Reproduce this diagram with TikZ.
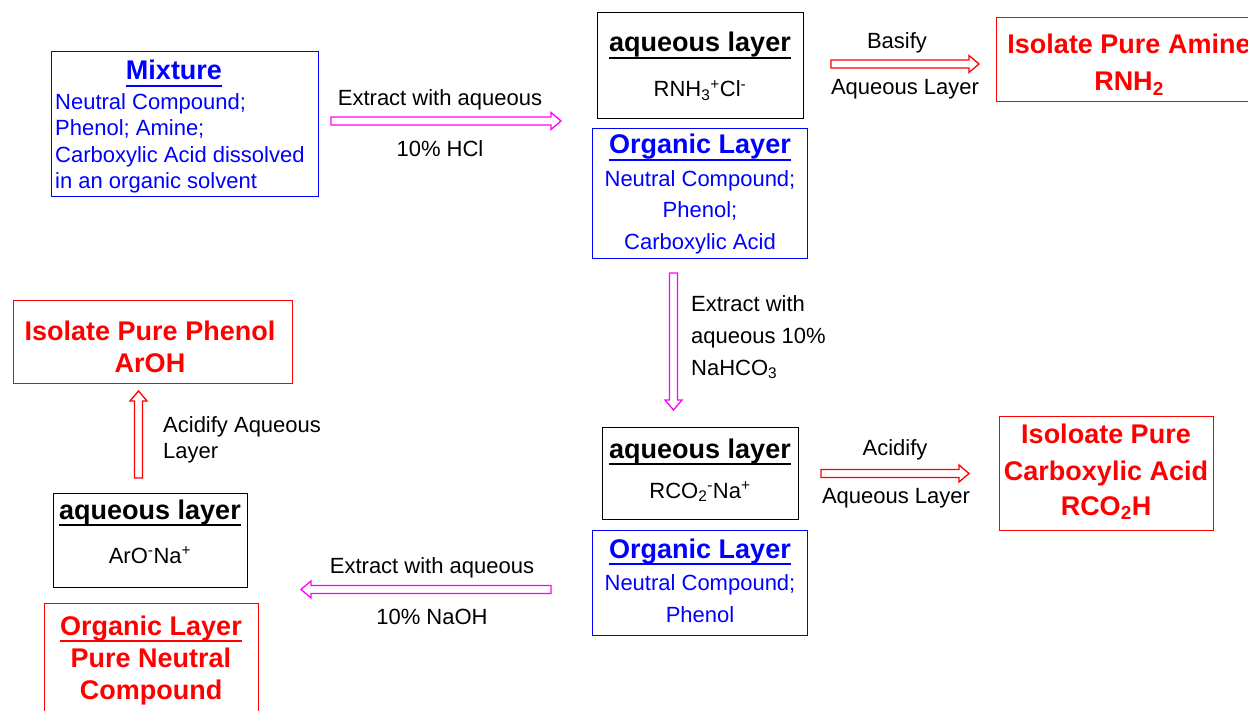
\documentclass[tikz,border=0pt]{standalone}
\usepackage{fontspec}
\setmainfont{Liberation Sans}
\usetikzlibrary{calc}
\definecolor{myblue}{RGB}{0,0,255}
\definecolor{mypink}{RGB}{255,0,255}
\definecolor{myred}{RGB}{255,0,0}
\newcommand\myul[1]{\setbox0\hbox{#1}\rlap{\rule[-0.25em]{\wd0}{0.075em}}\box0}
\begin{document}
\begin{tikzpicture}[x=1pt,y=-1pt,
 body/.style={inner sep=0pt, font=\fontsize{22}{26}\selectfont, anchor=base},
 head/.style={inner sep=0pt, font=\fontsize{27}{31}\selectfont\bfseries, anchor=base},
 frame/.style={draw, line width=1pt, inner sep=0pt},
 blockarrow/.style={line width=1.3pt, fill=white, line join=miter, to path={
  ($(\tikztostart)!4pt!90:(\tikztotarget)$) --
  ($(\tikztotarget)!10pt!(\tikztostart)!4pt!90:(\tikztotarget)$) --
  ($(\tikztotarget)!10pt!(\tikztostart)!8.5pt!90:(\tikztotarget)$) --
  (\tikztotarget) --
  ($(\tikztotarget)!10pt!(\tikztostart)!8.5pt!-90:(\tikztotarget)$) --
  ($(\tikztotarget)!10pt!(\tikztostart)!4pt!-90:(\tikztotarget)$) --
  ($(\tikztostart)!4pt!-90:(\tikztotarget)$) -- cycle}}
]
\useasboundingbox (0,0) rectangle (1248,711);

% boxes
\node[frame, draw=myblue, minimum width=267pt, minimum height=145pt] (mixbox) at (184.5,124.5) {};
\node[frame, draw=black, minimum width=206pt, minimum height=106pt] (aq1) at (700,66) {};
\node[frame, draw=myblue, minimum width=215pt, minimum height=130pt] (org1) at (699.5,194) {};
\node[frame, draw=myred, minimum width=266pt, minimum height=84pt] (amine) at (1129,60) {};
\node[frame, draw=black, minimum width=196pt, minimum height=92pt] (aq2) at (700,473) {};
\node[frame, draw=myblue, minimum width=215pt, minimum height=105pt] (org2) at (699.5,582.5) {};
\node[frame, draw=myred, minimum width=214pt, minimum height=114pt] (acid) at (1106,473) {};
\node[frame, draw=black, minimum width=194pt, minimum height=94pt] (aq3) at (150,540) {};
\node[frame, draw=myred, minimum width=214pt, minimum height=117pt] (neutral) at (151,661.5) {};
\node[frame, draw=myred, minimum width=279pt, minimum height=82pt] (phenol) at (152.5,342) {};

% arrows
\coordinate (a1s) at (331,121);   \coordinate (a1e) at (561,121);
\coordinate (a2s) at (831,64);    \coordinate (a2e) at (979,64);
\coordinate (a3s) at (673.5,273); \coordinate (a3e) at (673.5,410);
\coordinate (a4s) at (821,473.5); \coordinate (a4e) at (969,473.5);
\coordinate (a5s) at (551,589.5); \coordinate (a5e) at (301,589.5);
\coordinate (a6s) at (138.5,478); \coordinate (a6e) at (138.5,391);
\draw[blockarrow, draw=mypink] (a1s) to (a1e);
\draw[blockarrow, draw=myred] (a2s) to (a2e);
\draw[blockarrow, draw=mypink] (a3s) to (a3e);
\draw[blockarrow, draw=myred] (a4s) to (a4e);
\draw[blockarrow, draw=mypink] (a5s) to (a5e);
\draw[blockarrow, draw=myred] (a6s) to (a6e);

% Mixture
\node[head, text=myblue] (mixt) at (174,80) {\myul{Mixture}};
\node[body, text=myblue, anchor=base west] (mix1) at (55,110) {Neutral Compound;};
\node[body, text=myblue, anchor=base west] (mix2) at (55,136) {Phenol; Amine;};
\node[body, text=myblue, anchor=base west] (mix3) at (55,163) {Carboxylic Acid dissolved};
\node[body, text=myblue, anchor=base west] (mix4) at (55,189) {in an organic solvent};

% arrow 1 labels
\node[body] (l1a) at (440,106) {Extract with aqueous};
\node[body] (l1b) at (440,157) {10\% HCl};

% aqueous 1
\node[head] (aq1t) at (700,52) {\myul{aqueous layer}};
\node[body] (aq1a) at (700,97) {RNH\textsubscript{3}\textsuperscript{+}Cl\textsuperscript{-}};

% organic 1
\node[head, text=myblue] (org1t) at (700,154) {\myul{Organic Layer}};
\node[body, text=myblue] (org1a) at (700,187) {Neutral Compound;};
\node[body, text=myblue] (org1b) at (700,218) {Phenol;};
\node[body, text=myblue] (org1c) at (700,250) {Carboxylic Acid};

% basify
\node[body] (l2a) at (897,49) {Basify};
\node[body] (l2b) at (905,95) {Aqueous Layer};

% amine
\node[head, text=myred] (aminet) at (1129,54) {Isolate Pure Amine};
\node[head, text=myred] (aminea) at (1129,91) {RNH\textsubscript{2}};

% NaHCO3
\node[body, anchor=base west] (l3a) at (691,312) {Extract with};
\node[body, anchor=base west] (l3b) at (691,344) {aqueous 10\%};
\node[body, anchor=base west] (l3c) at (691,375) {NaHCO\textsubscript{3}};

% aqueous 2
\node[head] (aq2t) at (700,458) {\myul{aqueous layer}};
\node[body] (aq2a) at (700,498) {RCO\textsubscript{2}\textsuperscript{-}Na\textsuperscript{+}};

% organic 2
\node[head, text=myblue] (org2t) at (700,558) {\myul{Organic Layer}};
\node[body, text=myblue] (org2a) at (700,590) {Neutral Compound;};
\node[body, text=myblue] (org2b) at (700,622) {Phenol};

% acidify
\node[body] (l4a) at (895,455) {Acidify};
\node[body] (l4b) at (896,503) {Aqueous Layer};

% acid box
\node[head, text=myred] (acidt) at (1106,443) {Isoloate Pure};
\node[head, text=myred] (acida) at (1106,480) {Carboxylic Acid};
\node[head, text=myred] (acidb) at (1106,515) {RCO\textsubscript{2}H};

% NaOH
\node[body] (l5a) at (432,573) {Extract with aqueous};
\node[body] (l5b) at (432,624) {10\% NaOH};

% aqueous 3
\node[head] (aq3t) at (150,519) {\myul{aqueous layer}};
\node[body] (aq3a) at (150,563) {ArO\textsuperscript{-}Na\textsuperscript{+}};

% neutral
\node[head, text=myred] (neut) at (151,635) {\myul{Organic Layer}};
\node[head, text=myred] (neua) at (151,667) {Pure Neutral};
\node[head, text=myred] (neub) at (151,699) {Compound};

% acidify aqueous layer
\node[body, anchor=base west] (l6a) at (163,432) {Acidify Aqueous};
\node[body, anchor=base west] (l6b) at (163,458) {Layer};

% phenol
\node[head, text=myred] (phent) at (150,341) {Isolate Pure Phenol};
\node[head, text=myred] (phena) at (150,373) {ArOH};
\end{tikzpicture}
\end{document}
